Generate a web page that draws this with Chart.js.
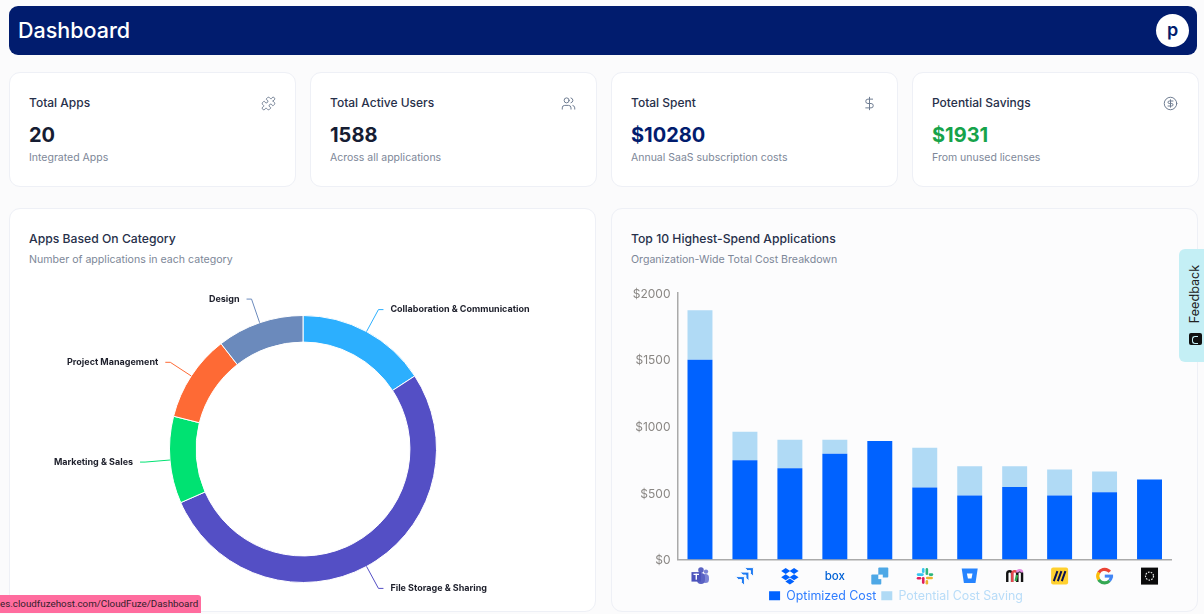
<!DOCTYPE html>
<html lang="en">
<head>
<meta charset="UTF-8">
<title>Dashboard</title>
<script src="https://cdn.jsdelivr.net/npm/chart.js"></script>
<style>
    * { box-sizing: border-box; }
    html, body { margin: 0; width: 1204px; height: 614px; overflow: hidden; }
    body { position: relative; background: #fbfbfc; font-family: Inter, "Noto Sans", sans-serif; color: #1e2433; }
    .topbar { position: absolute; left: 9px; top: 6px; width: 1188px; height: 49px; background: #011c6e; border-radius: 9px; }
    .topbar h1 { position: absolute; left: 9px; top: 10px; margin: 0; font-size: 21.5px; line-height: 28px; font-weight: 500; color: #fff; }
    .avatar { position: absolute; left: 1147px; top: 8px; width: 33px; height: 33px; border-radius: 50%; background: #fff; color: #011c6e; text-align: center; font-size: 18px; font-weight: 600; line-height: 31px; }
    .card { position: absolute; background: #fff; border: 1px solid #eef0f6; border-radius: 11px; }
    .stat { top: 72px; width: 287px; height: 115px; }
    .stat .name { position: absolute; left: 19px; top: 22px; font-size: 12px; line-height: 16px; font-weight: 500; color: #27304a; }
    .stat .value { position: absolute; left: 19px; top: 49px; font-size: 20px; line-height: 26px; font-weight: 700; color: #161d33; }
    .stat .note { position: absolute; left: 19px; top: 77px; font-size: 10.5px; line-height: 15px; color: #7d8798; }
    .stat svg { position: absolute; right: 20px; top: 23px; width: 15px; height: 15px; fill: none; stroke: #6f7d92; stroke-width: 1.6; stroke-linecap: round; stroke-linejoin: round; }
    .panel { top: 208px; height: 404px; }
    .panel h2 { position: absolute; left: 19px; top: 22px; margin: 0; font-size: 12.2px; line-height: 16px; font-weight: 500; color: #27304a; }
    .panel p { position: absolute; left: 19px; top: 43px; margin: 0; font-size: 10.6px; line-height: 15px; color: #7d8798; }
    canvas { position: absolute; }
    .feedback { position: absolute; left: 1179px; top: 249px; width: 25px; height: 113px; background: #c4eff5; border-radius: 6px 0 0 6px; }
    .feedback span { position: absolute; left: 15px; top: 45px; transform: translate(-50%, -50%) rotate(-90deg); font-size: 12.6px; color: #222; white-space: nowrap; }
    .feedback i { position: absolute; left: 10px; top: 84px; width: 13px; height: 12px; background: #111; border-radius: 2px; }
    .feedback i::after { content: ""; position: absolute; left: 3px; top: 3px; width: 5px; height: 6px; border: 1px solid #c4eff5; border-right: 0; border-radius: 3px 0 0 3px; }
    .status { position: absolute; left: 0; top: 595px; width: 201px; height: 18px; background: #ff6c9e; border-radius: 0 3px 0 0; font-family: Roboto, sans-serif; font-size: 9.8px; line-height: 18px; color: #33202a; white-space: nowrap; overflow: hidden; }
</style>
</head>
<body>
    <div class="topbar"><h1>Dashboard</h1><div class="avatar">p</div></div>

    <div class="card stat" style="left:9px">
        <div class="name">Total Apps</div><div class="value">20</div><div class="note">Integrated Apps</div>
        <svg style="right:19px" viewBox="0 0 24 24"><path d="M19.439 7.85c-.049.322.059.648.289.878l1.568 1.568c.47.47.706 1.087.706 1.704s-.235 1.233-.706 1.704l-1.611 1.611a.98.98 0 0 1-.837.276c-.47-.07-.802-.48-.968-.925a2.501 2.501 0 1 0-3.214 3.214c.446.166.855.497.925.968a.979.979 0 0 1-.276.837l-1.61 1.61a2.404 2.404 0 0 1-1.705.707 2.402 2.402 0 0 1-1.704-.706l-1.568-1.568a1.026 1.026 0 0 0-.877-.29c-.493.074-.84.504-1.02.968a2.5 2.5 0 1 1-3.237-3.237c.464-.18.894-.527.967-1.02a1.026 1.026 0 0 0-.289-.877l-1.568-1.568A2.402 2.402 0 0 1 1.998 12c0-.617.236-1.234.706-1.704L4.23 8.77c.24-.24.581-.353.917-.303.515.077.877.528 1.073 1.01a2.5 2.5 0 1 0 3.259-3.259c-.482-.196-.933-.558-1.01-1.073-.05-.336.062-.676.303-.917l1.525-1.525A2.402 2.402 0 0 1 12 1.998c.617 0 1.234.236 1.704.706l1.568 1.568c.23.23.556.338.877.29.493-.074.84-.504 1.02-.968a2.5 2.5 0 1 1 3.237 3.237c-.464.18-.894.527-.967 1.02Z"/></svg>
    </div>
    <div class="card stat" style="left:310px">
        <div class="name">Total Active Users</div><div class="value">1588</div><div class="note">Across all applications</div>
        <svg viewBox="0 0 24 24"><path d="M16 21v-2a4 4 0 0 0-4-4H6a4 4 0 0 0-4 4v2"/><circle cx="9" cy="7" r="4"/><path d="M22 21v-2a4 4 0 0 0-3-3.87"/><path d="M16 3.13a4 4 0 0 1 0 7.75"/></svg>
    </div>
    <div class="card stat" style="left:611px">
        <div class="name">Total Spent</div><div class="value" style="color:#011c6e">$10280</div><div class="note">Annual SaaS subscription costs</div>
        <svg viewBox="0 0 24 24"><path d="M12 2v20"/><path d="M17 5H9.5a3.5 3.5 0 0 0 0 7h5a3.5 3.5 0 0 1 0 7H6"/></svg>
    </div>
    <div class="card stat" style="left:912px">
        <div class="name">Potential Savings</div><div class="value" style="color:#16a34a">$1931</div><div class="note">From unused licenses</div>
        <svg viewBox="0 0 24 24"><circle cx="12" cy="12" r="10"/><path d="M16 8h-6a2 2 0 1 0 0 4h4a2 2 0 1 1 0 4H8"/><path d="M12 18V6"/></svg>
    </div>

    <div class="card panel" style="left:9px;width:587px">
        <h2>Apps Based On Category</h2>
        <p>Number of applications in each category</p>
    </div>
    <div class="card panel" style="left:611px;width:587px;background:#fcfcfd">
        <h2>Top 10 Highest-Spend Applications</h2>
        <p>Organization-Wide Total Cost Breakdown</p>
    </div>

    <canvas id="categoryChart" width="566" height="328" style="left:20px;top:285px"></canvas>
    <canvas id="spendChart" width="552" height="329" style="left:620px;top:283px"></canvas>

    <div class="feedback"><span>Feedback</span><i></i></div>
    <div class="status">es.cloudfuzehost.com/CloudFuze/Dashboard</div>

    <script>
        var FONT = 'Inter, "Noto Sans", sans-serif';

        // Apps per category
        var categories = ['Collaboration & Communication', 'File Storage & Sharing', 'Marketing & Sales', 'Project Management', 'Design'];
        var categoryCounts = [3, 10, 2, 2, 2];
        var categoryColors = ['#2caffe', '#544fc5', '#00e272', '#fe6a35', '#6b8abc'];

        // Highest spend apps, the axis shows their logos
        var apps = ['Microsoft Teams', 'Jira', 'Dropbox', 'Box', 'ShareFile', 'Slack', 'Bitbucket', 'Monday', 'Miro', 'Google', 'Other'];
        var optimizedCost = [1500, 745, 685, 795, 890, 540, 480, 545, 480, 505, 600];
        var potentialSaving = [370, 215, 215, 105, 0, 300, 220, 155, 195, 155, 0];
        var spendTicks = [0, 500, 1000, 1500, 2000];

        // Leader lines and labels around the ring
        var sliceLabels = {
            id: 'sliceLabels',
            afterDraw: function (chart) {
                var c = chart.ctx;
                chart.getDatasetMeta(0).data.forEach(function (arc, i) {
                    var mid = (arc.startAngle + arc.endAngle) / 2;
                    var x1 = arc.x + arc.outerRadius * Math.cos(mid);
                    var y1 = arc.y + arc.outerRadius * Math.sin(mid);
                    var x2 = arc.x + (arc.outerRadius + 25) * Math.cos(mid);
                    var y2 = arc.y + (arc.outerRadius + 25) * Math.sin(mid);
                    var dir = Math.cos(mid) >= 0 ? 1 : -1;
                    c.save();
                    c.strokeStyle = categoryColors[i];
                    c.lineWidth = 1;
                    c.beginPath();
                    c.moveTo(x1, y1);
                    c.lineTo(x2, y2);
                    c.lineTo(x2 + dir * 5, y2);
                    c.stroke();
                    c.fillStyle = '#1d1f2b';
                    c.font = '700 9px ' + FONT;
                    c.textAlign = dir > 0 ? 'left' : 'right';
                    c.textBaseline = 'middle';
                    c.fillText(categories[i], x2 + dir * 12, y2);
                    c.restore();
                });
            }
        };

        new Chart(document.getElementById('categoryChart'), {
            type: 'doughnut',
            data: {
                labels: categories,
                datasets: [{ data: categoryCounts, backgroundColor: categoryColors, borderColor: '#ffffff', borderWidth: 1 }]
            },
            options: {
                responsive: false,
                animation: false,
                radius: 133.5,
                cutout: '80.1%',
                plugins: { legend: { display: false }, tooltip: { enabled: false } }
            },
            plugins: [sliceLabels]
        });

        // Small logos under the axis, one drawing function per app
        function pill(c, x, y, w, h, color) {
            c.fillStyle = color;
            c.beginPath();
            c.roundRect(x, y, w, h, Math.min(w, h) / 2);
            c.fill();
        }
        function diamond(c, x, y, color) {
            c.fillStyle = color;
            c.beginPath();
            c.moveTo(x, y - 3);
            c.lineTo(x + 4.5, y);
            c.lineTo(x, y + 3);
            c.lineTo(x - 4.5, y);
            c.fill();
        }
        var logos = [
            function (c) { // teams
                c.fillStyle = '#7b83d6';
                c.beginPath(); c.arc(6, -4.5, 2.2, 0, 7); c.fill();
                pill(c, 2, -2, 7, 9, '#7b83d6');
                c.fillStyle = '#5a62c3';
                c.beginPath(); c.arc(1, -6, 2.8, 0, 7); c.fill();
                pill(c, -3, -3, 8, 11, '#5a62c3');
                c.fillStyle = '#4b53bc';
                c.fillRect(-8.5, -4, 9.5, 9.5);
                c.fillStyle = '#fff';
                c.fillRect(-6.5, -2.4, 5.5, 1.3);
                c.fillRect(-4.4, -2.4, 1.4, 6);
            },
            function (c) { // jira
                c.fillStyle = '#1f7bf2';
                [[8.5, -8.5], [4, -4], [-0.5, 0.5]].forEach(function (p) {
                    c.strokeStyle = '#fcfcfd';
                    c.lineWidth = 1;
                    c.beginPath();
                    c.moveTo(p[0] - 9, p[1]);
                    c.lineTo(p[0], p[1]);
                    c.lineTo(p[0], p[1] + 9);
                    c.lineTo(p[0] - 3, p[1] + 6);
                    c.lineTo(p[0] - 3, p[1] + 3);
                    c.lineTo(p[0] - 6, p[1] + 3);
                    c.closePath();
                    c.fill();
                    c.stroke();
                });
            },
            function (c) { // dropbox
                diamond(c, -4.2, -5, '#0061ff');
                diamond(c, 4.2, -5, '#0061ff');
                diamond(c, -4.2, 1.2, '#0061ff');
                diamond(c, 4.2, 1.2, '#0061ff');
                diamond(c, 0, 5.4, '#0061ff');
            },
            function (c) { // box
                c.fillStyle = '#0061d5';
                c.font = '500 11.5px ' + FONT;
                c.textAlign = 'center';
                c.textBaseline = 'middle';
                c.fillText('box', 0, 0);
            },
            function (c) { // sharefile
                c.fillStyle = '#4ea8e6';
                c.beginPath(); c.roundRect(-1.5, -8.5, 10, 10, 1); c.fill();
                c.beginPath(); c.roundRect(-8.5, -1.5, 10, 10, 1); c.fill();
                c.fillStyle = '#fcfcfd';
                c.fillRect(-1.5, -1.5, 4.5, 4.5);
            },
            function (c) { // slack
                pill(c, -8, -2.8, 7, 2.6, '#36c5f0');
                pill(c, -2.8, -8, 2.6, 5, '#36c5f0');
                pill(c, 0.8, -8, 2.6, 7, '#2eb67d');
                pill(c, 4, -2.8, 4.5, 2.6, '#2eb67d');
                pill(c, 1.2, 0.6, 7, 2.6, '#ecb22e');
                pill(c, 0.8, 4, 2.6, 4.5, '#ecb22e');
                pill(c, -2.8, 0.8, 2.6, 7, '#e01e5a');
                pill(c, -8, 0.8, 4.5, 2.6, '#e01e5a');
            },
            function (c) { // bitbucket
                c.fillStyle = '#2684ff';
                c.beginPath();
                c.moveTo(-8, -7.5); c.lineTo(8, -7.5); c.lineTo(5.8, 7); c.lineTo(-5.8, 7);
                c.fill();
                c.fillStyle = '#fff';
                c.beginPath();
                c.moveTo(-2.8, -2.5); c.lineTo(2.8, -2.5); c.lineTo(1.8, 2.5); c.lineTo(-1.8, 2.5);
                c.fill();
            },
            function (c) { // arches
                c.lineWidth = 2.4;
                [[-5, '#111'], [0, '#e5484d'], [5, '#111']].forEach(function (a) {
                    c.strokeStyle = a[1];
                    c.beginPath();
                    c.moveTo(a[0] - 2.4, 6);
                    c.lineTo(a[0] - 2.4, -2.5);
                    c.arc(a[0], -2.5, 2.4, Math.PI, 0);
                    c.lineTo(a[0] + 2.4, 6);
                    c.stroke();
                });
                c.strokeStyle = '#2fa84f';
                c.beginPath(); c.moveTo(2.4, -1); c.lineTo(1, 5); c.stroke();
                c.strokeStyle = '#e58be0';
                c.beginPath(); c.arc(5, -3.5, 2.4, Math.PI, 0); c.stroke();
            },
            function (c) { // miro
                c.fillStyle = '#ffd02f';
                c.beginPath(); c.roundRect(-8.5, -8.5, 17, 17, 2); c.fill();
                c.strokeStyle = '#0b1050';
                c.lineWidth = 2;
                [-4, 0, 4].forEach(function (dx) {
                    c.beginPath(); c.moveTo(dx + 1.8, -5); c.lineTo(dx - 1.8, 5); c.stroke();
                });
            },
            function (c) { // google
                c.lineWidth = 3.2;
                c.strokeStyle = '#ea4335';
                c.beginPath(); c.arc(0, 0, 6.8, -2.6, -0.7); c.stroke();
                c.strokeStyle = '#fbbc05';
                c.beginPath(); c.arc(0, 0, 6.8, 2.6, 3.7); c.stroke();
                c.strokeStyle = '#34a853';
                c.beginPath(); c.arc(0, 0, 6.8, 0.75, 2.6); c.stroke();
                c.strokeStyle = '#4285f4';
                c.beginPath(); c.arc(0, 0, 6.8, 0, 0.75); c.stroke();
                c.fillStyle = '#4285f4';
                c.fillRect(0.2, -1.5, 8.3, 3);
            },
            function (c) { // black tile
                c.fillStyle = '#0a0a0a';
                c.fillRect(-8.5, -8.5, 17, 17);
                c.strokeStyle = '#e8e8e8';
                c.lineWidth = 1.2;
                c.setLineDash([1.6, 1.2]);
                c.beginPath(); c.arc(0, 0, 4, 0, 7); c.stroke();
                c.setLineDash([]);
            }
        ];

        var axisLogos = {
            id: 'axisLogos',
            afterDraw: function (chart) {
                var c = chart.ctx;
                var xScale = chart.scales.x;
                logos.forEach(function (draw, i) {
                    c.save();
                    c.translate(xScale.getPixelForTick(i), xScale.top + 16.5);
                    draw(c);
                    c.restore();
                });
            }
        };

        new Chart(document.getElementById('spendChart'), {
            type: 'bar',
            data: {
                labels: apps,
                datasets: [
                    { label: 'Optimized Cost', data: optimizedCost, backgroundColor: '#0062ff' },
                    { label: 'Potential Cost Saving', data: potentialSaving, backgroundColor: '#b0daf5' }
                ]
            },
            options: {
                responsive: false,
                animation: false,
                layout: { padding: { top: 10 } },
                datasets: { bar: { categoryPercentage: 1, barPercentage: 0.555 } },
                scales: {
                    x: {
                        stacked: true,
                        grid: { display: false, tickLength: 5, tickColor: '#999' },
                        border: { color: '#aaa', width: 1.5 },
                        ticks: { callback: function () { return ''; }, maxRotation: 0 },
                        afterFit: function (s) { s.height = 25; }
                    },
                    y: {
                        stacked: true,
                        min: 0,
                        max: 2000,
                        afterBuildTicks: function (s) { s.ticks = spendTicks.map(function (v) { return { value: v }; }); },
                        grid: { display: false, drawTicks: true, tickLength: 5, tickColor: '#999' },
                        border: { color: '#aaa', width: 1.5 },
                        ticks: {
                            color: '#8a8784',
                            font: { family: FONT, size: 12 },
                            padding: 2,
                            labelOffset: 1,
                            callback: function (v) { return '$' + v; }
                        },
                        afterFit: function (s) { s.width = 57.5; }
                    }
                },
                plugins: {
                    tooltip: { enabled: false },
                    legend: {
                        position: 'bottom',
                        labels: {
                            boxWidth: 11,
                            boxHeight: 9,
                            padding: 5,
                            font: { family: FONT, size: 12.4 },
                            generateLabels: function (chart) {
                                var textColors = ['#2f7dff', '#b8dcf8'];
                                return chart.data.datasets.map(function (d, i) {
                                    return { text: d.label, fillStyle: d.backgroundColor, strokeStyle: d.backgroundColor, lineWidth: 0, fontColor: textColors[i], datasetIndex: i };
                                });
                            }
                        }
                    }
                }
            },
            plugins: [axisLogos]
        });
    </script>
</body>
</html>
